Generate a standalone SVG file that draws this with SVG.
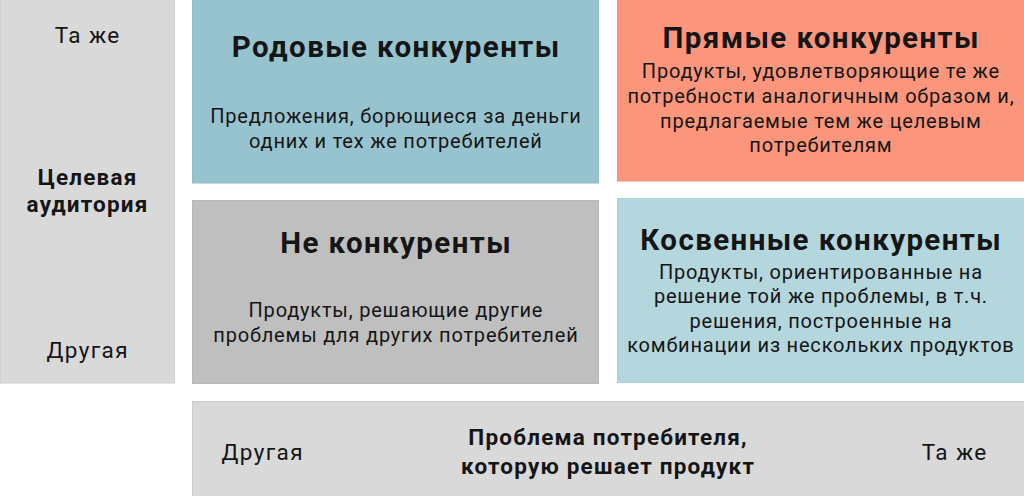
<svg xmlns="http://www.w3.org/2000/svg" width="1024" height="496" viewBox="0 0 1024 496">
<style>
text{font-family:Roboto,"Liberation Sans",sans-serif;fill:#151515;text-anchor:middle}
.t{font-size:29.5px;font-weight:bold;letter-spacing:1.4px}
.b{font-size:20px;letter-spacing:0.8px}
.l{font-size:22.5px;letter-spacing:1.4px}
.lb{font-size:22.5px;font-weight:bold;letter-spacing:1.2px}
</style>
<rect width="1024" height="496" fill="#ffffff"/>
<g id="axis-audience">
<rect x="0.5" y="-1" width="174" height="384" fill="#d9d9d9" stroke="#d0d0d0"/>
<text class="l" x="87.7" y="43">Та же</text>
<text class="lb" x="87.6" y="185">Целевая</text>
<text class="lb" x="87.6" y="212">аудитория</text>
<text class="l" x="87.7" y="358">Другая</text>
</g>
<g id="generic">
<rect x="192.5" y="-1" width="406" height="184" fill="#97c3cf" stroke="#8fbcc8"/>
<text class="t" x="396.2" y="57">Родовые конкуренты</text>
<text class="b" x="395.9" y="123">Предложения, борющиеся за деньги</text>
<text class="b" x="395.9" y="148">одних и тех же потребителей</text>
</g>
<g id="direct">
<rect x="617.5" y="-1" width="407" height="182" fill="#fb967c" stroke="#f38e74"/>
<text class="t" x="821.2" y="48">Прямые конкуренты</text>
<text class="b" x="820.9" y="78">Продукты, удовлетворяющие те же</text>
<text class="b" x="820.9" y="103">потребности аналогичным образом и,</text>
<text class="b" x="820.9" y="128">предлагаемые тем же целевым</text>
<text class="b" x="820.9" y="152">потребителям</text>
</g>
<g id="non">
<rect x="192.5" y="200.5" width="406" height="183" fill="#bfbfbf" stroke="#b8b8b8"/>
<text class="t" x="396.2" y="253">Не конкуренты</text>
<text class="b" x="395.9" y="317">Продукты, решающие другие</text>
<text class="b" x="395.9" y="342">проблемы для других потребителей</text>
</g>
<g id="indirect">
<rect x="617.5" y="198.5" width="407" height="184" fill="#b4d6dd" stroke="#abcfd6"/>
<text class="t" x="821.2" y="250">Косвенные конкуренты</text>
<text class="b" x="820.9" y="279">Продукты, ориентированные на</text>
<text class="b" x="820.9" y="303">решение той же проблемы, в т.ч.</text>
<text class="b" x="820.9" y="328">решения, построенные на</text>
<text class="b" x="820.9" y="352">комбинации из нескольких продуктов</text>
</g>
<g id="axis-problem">
<rect x="192.5" y="401.5" width="832" height="96" fill="#d9d9d9" stroke="#cccccc"/>
<text class="l" x="262.7" y="460">Другая</text>
<text class="lb" x="608.1" y="445">Проблема потребителя,</text>
<text class="lb" x="608.1" y="474">которую решает продукт</text>
<text class="l" x="954.7" y="460">Та же</text>
</g>
<g id="connectors"></g>
</svg>
